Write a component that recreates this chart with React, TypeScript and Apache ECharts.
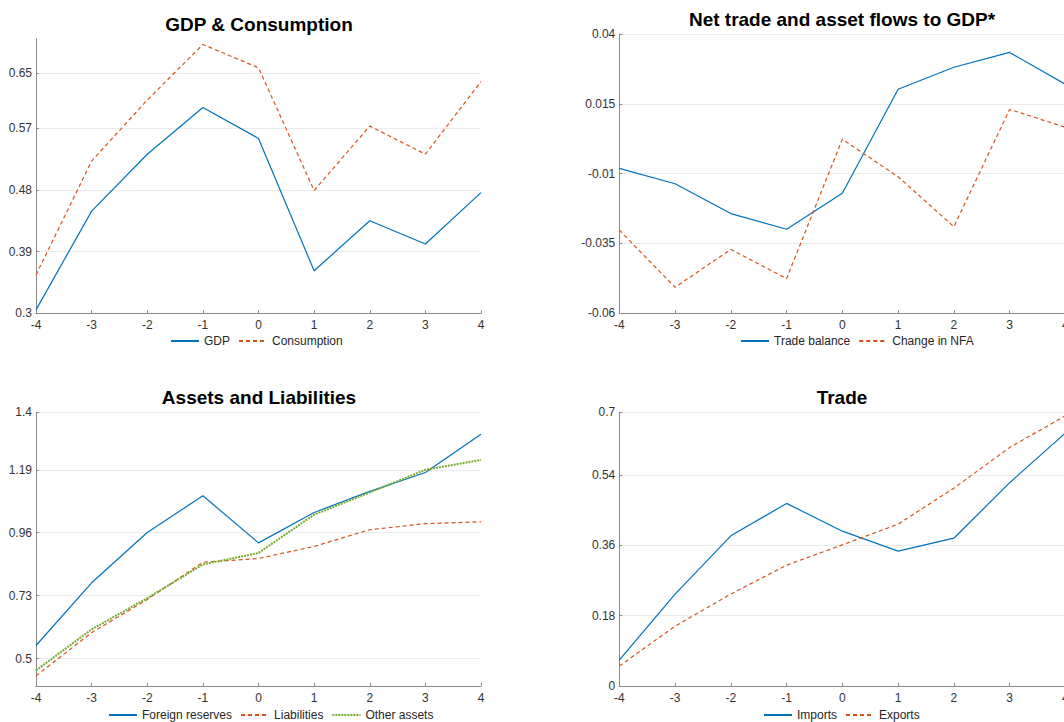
import React, { useEffect, useRef } from "react";
import * as echarts from "echarts";

const quarters = ["-4", "-3", "-2", "-1", "0", "1", "2", "3", "4"];

const gdp = [0.305, 0.449, 0.532, 0.6, 0.555, 0.362, 0.435, 0.401, 0.476];
const consumption = [0.356, 0.522, 0.611, 0.692, 0.658, 0.479, 0.573, 0.532, 0.638];

const tradeBalance = [-0.0081, -0.0136, -0.0243, -0.0299, -0.017, 0.0202, 0.0281, 0.0334, 0.022];
const changeNFA = [-0.0302, -0.0507, -0.0371, -0.0476, 0.0023, -0.0111, -0.029, 0.013, 0.0066];

const foreignReserves = [0.548, 0.777, 0.961, 1.095, 0.923, 1.034, 1.111, 1.18, 1.32];
const liabilities = [0.437, 0.595, 0.716, 0.852, 0.866, 0.91, 0.971, 0.993, 1.0];
const otherAssets = [0.457, 0.607, 0.721, 0.844, 0.886, 1.026, 1.107, 1.19, 1.226];

const imports = [0.066, 0.235, 0.384, 0.467, 0.396, 0.345, 0.378, 0.52, 0.647];
const exportsData = [0.051, 0.153, 0.235, 0.309, 0.361, 0.414, 0.506, 0.61, 0.691];

const gdpTicks = [0.3, 0.39, 0.48, 0.57, 0.65];
const flowTicks = [-0.06, -0.035, -0.01, 0.015, 0.04];
const assetTicks = [0.5, 0.73, 0.96, 1.19, 1.4];
const tradeTicks = [0, 0.18, 0.36, 0.54, 0.7];

const FONT = "'Liberation Sans', Arial, sans-serif";
const BLUE = "#0072BD";
const ORANGE = "#D95319";
const GREEN = "#77AC30";

const xAxisFor = (gridIndex: number) => ({
  type: "category",
  gridIndex,
  data: quarters,
  boundaryGap: false,
  axisLine: { onZero: false, lineStyle: { color: "#8a8a8a", width: 1 } },
  axisTick: { inside: true, length: 3, lineStyle: { color: "#8a8a8a" } },
  axisLabel: { margin: 6, fontSize: 12, color: "#333", fontFamily: FONT, interval: 0 },
  splitLine: { show: false },
});

const yAxisFor = (gridIndex: number, min: number, max: number, ticks: number[]) => ({
  type: "value",
  gridIndex,
  min,
  max,
  axisLine: { show: true, onZero: false, lineStyle: { color: "#8a8a8a", width: 1 } },
  axisTick: { show: true, inside: true, length: 3, customValues: ticks, lineStyle: { color: "#8a8a8a" } },
  axisLabel: {
    margin: 4,
    fontSize: 12,
    color: "#333",
    fontFamily: FONT,
    customValues: ticks,
    formatter: (v: number) => String(v),
  },
  splitLine: { show: true, lineStyle: { color: "#ebebeb", width: 1 } },
});

const lineSeries = (
  name: string,
  data: number[],
  idx: number,
  color: string,
  type: any,
  width = 1.2
) => ({
  name,
  type: "line",
  xAxisIndex: idx,
  yAxisIndex: idx,
  data,
  symbol: "none",
  itemStyle: { color },
  lineStyle: { color, width, type },
});

const legendFor = (names: string[], left: number, top: number) => ({
  data: names,
  left,
  top,
  padding: 0,
  itemGap: 8,
  itemWidth: 28,
  itemHeight: 12,
  itemStyle: { color: "transparent", borderWidth: 0, opacity: 0 },
  textStyle: { fontSize: 12, color: "#262626", fontFamily: FONT },
});

const titleText = (text: string, x: number, y: number) => ({
  type: "text",
  x,
  y,
  style: {
    text,
    fill: "#000",
    font: `bold 19px ${FONT}`,
    textAlign: "center",
    textVerticalAlign: "middle",
  },
});

export default function App() {
  const chartRef = useRef<HTMLDivElement>(null);

  useEffect(() => {
    if (!chartRef.current) return;
    const chart = echarts.init(chartRef.current, null, { renderer: "svg" });

    const option = {
      animation: false,
      backgroundColor: "#fff",
      textStyle: { fontFamily: FONT },
      grid: [
        { left: 36, right: 583, top: 39, bottom: 408.7, outerBoundsMode: "none" },
        { left: 619.3, right: -1.4, top: 34, bottom: 408.7, outerBoundsMode: "none" },
        { left: 36, right: 583, top: 412.3, bottom: 36, outerBoundsMode: "none" },
        { left: 619.3, right: -1.4, top: 412.3, bottom: 36, outerBoundsMode: "none" },
      ],
      xAxis: [xAxisFor(0), xAxisFor(1), xAxisFor(2), xAxisFor(3)],
      yAxis: [
        yAxisFor(0, 0.3, 0.7, gdpTicks),
        yAxisFor(1, -0.06, 0.04, flowTicks),
        yAxisFor(2, 0.4, 1.4, assetTicks),
        yAxisFor(3, 0, 0.7, tradeTicks),
      ],
      legend: [
        legendFor(["GDP", "Consumption"], 170, 335),
        legendFor(["Trade balance", "Change in NFA"], 740, 335),
        legendFor(["Foreign reserves", "Liabilities", "Other assets"], 108, 709),
        legendFor(["Imports", "Exports"], 763, 709),
      ],
      graphic: [
        titleText("GDP & Consumption", 259, 24),
        titleText("Net trade and asset flows to GDP*", 842, 19.5),
        titleText("Assets and Liabilities", 259, 397.5),
        titleText("Trade", 842, 397.5),
      ],
      series: [
        lineSeries("GDP", gdp, 0, BLUE, "solid"),
        lineSeries("Consumption", consumption, 0, ORANGE, [4, 3]),
        lineSeries("Trade balance", tradeBalance, 1, BLUE, "solid"),
        lineSeries("Change in NFA", changeNFA, 1, ORANGE, [4, 3]),
        lineSeries("Foreign reserves", foreignReserves, 2, BLUE, "solid"),
        lineSeries("Liabilities", liabilities, 2, ORANGE, [4, 3]),
        lineSeries("Other assets", otherAssets, 2, GREEN, [2, 1], 2),
        lineSeries("Imports", imports, 3, BLUE, "solid"),
        lineSeries("Exports", exportsData, 3, ORANGE, [4, 3]),
      ],
    };

    chart.setOption(option as any);
    return () => {
      chart.dispose();
    };
  }, []);

  return (
    <div
      ref={chartRef}
      style={{ position: "fixed", left: 0, top: 0, width: "1064px", height: "722px" }}
    />
  );
}
